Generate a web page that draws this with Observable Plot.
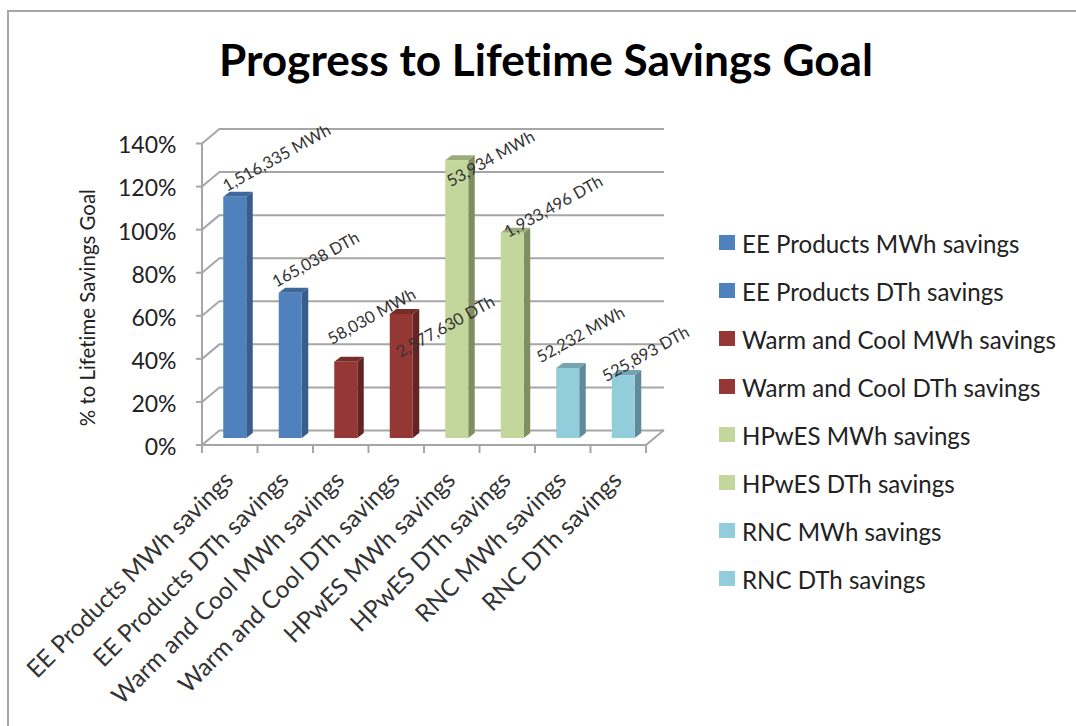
<!DOCTYPE html>
<html>
<head>
<meta charset="utf-8">
<script src="https://cdn.jsdelivr.net/npm/d3@7"></script>
<script src="https://cdn.jsdelivr.net/npm/@observablehq/plot@0.6"></script>
<style>
  html, body { margin: 0; padding: 0; background: #fff; }
  #page { position: relative; width: 1076px; height: 726px; overflow: hidden; font-family: Lato, "Noto Sans", sans-serif; color: #1a1a1a; font-variant-ligatures: none; }
  #edge { position: absolute; left: 7px; top: 10px; right: 0; bottom: 0; border-top: 2px solid #a6a6a6; border-left: 2px solid #a6a6a6; }
  #title { position: absolute; left: 0; width: 1092px; top: 34px; text-align: center; font-weight: 700; font-size: 44.2px; line-height: 50px; color: #000; }
  #legend { position: absolute; left: 719px; top: 219px; }
  .row { position: absolute; left: 0; height: 48px; display: flex; align-items: center; white-space: nowrap; font-size: 24.1px; color: #222; }
  .swatch { width: 16px; height: 15px; margin-right: 7px; margin-top: -2px; flex: none; }
  svg { position: absolute; left: 0; top: 0; font-variant-ligatures: none; }
</style>
</head>
<body>
<div id="page">
  <div id="edge"></div>
  <div id="title">Progress to Lifetime Savings Goal</div>
  <div id="legend"></div>
</div>
<script>
const categories = [
  "EE Products MWh savings", "EE Products DTh savings",
  "Warm and Cool MWh savings", "Warm and Cool DTh savings",
  "HPwES MWh savings", "HPwES DTh savings",
  "RNC MWh savings", "RNC DTh savings"
];
const percentToGoal = [112, 67.5, 35.4, 57.6, 129, 95.3, 32.5, 29.2];
const savingsLabels = [
  "1,516,335 MWh", "165,038 DTh", "58,030 MWh", "2,577,630 DTh",
  "53,934 MWh", "1,933,496 DTh", "52,232 MWh", "525,893 DTh"
];
const frontColors = ["#4f81bd", "#4f81bd", "#953735", "#953735", "#c3d69b", "#c3d69b", "#92cddc", "#92cddc"];
const sideColors  = ["#385d8a", "#385d8a", "#632523", "#632523", "#7f8f61", "#7f8f61", "#5e8a99", "#5e8a99"];
const topColors   = ["#3f6797", "#3f6797", "#772c2a", "#772c2a", "#9cab7c", "#9cab7c", "#74a4b0", "#74a4b0"];
const yTicks = [0, 20, 40, 60, 80, 100, 120, 140];
const yAxisTitle = "% to Lifetime Savings Goal";

// hand placement of each rotated label relative to its bar top
const labelNudges = [[-11, -10], [-17, -10], [-17, -22], [-4, 39], [-9, 22], [-7, 0], [-30, -10], [-20, 2]];

const rows = categories.map((name, i) => ({
  name, value: percentToGoal[i], label: savingsLabels[i],
  front: frontColors[i], side: sideColors[i], top: topColors[i]
}));

const gridStroke = "#a6a6a6";
const wallDx = 18, wallDy = -15;      // depth of the back wall
const barDx = 5, barDy = -7;          // bars stand inside the floor
const depthDx = 6.5, depthDy = -5;    // depth of each bar
const barHalf = 11.5;

function wallFrame(index, scales) {
  const {x, y} = scales;
  const g = d3.create("svg:g").attr("fill", "none").attr("stroke", gridStroke).attr("stroke-width", 2);
  const bw = scales.scales.x.bandwidth;
  const left = x(categories[0]);
  const right = x(categories[categories.length - 1]) + bw;
  for (const t of yTicks) {
    g.append("line").attr("x1", left - 6).attr("x2", left)
      .attr("y1", y(t)).attr("y2", y(t));
    g.append("line").attr("x1", left).attr("x2", left + wallDx)
      .attr("y1", y(t)).attr("y2", y(t) + wallDy);
  }
  g.append("line").attr("x1", left).attr("x2", left).attr("y1", y(0)).attr("y2", y(yTicks[yTicks.length - 1]));
  g.append("line").attr("x1", left).attr("x2", right).attr("y1", y(0)).attr("y2", y(0));
  g.append("line").attr("x1", right).attr("x2", right + wallDx).attr("y1", y(0)).attr("y2", y(0) + wallDy);
  for (const c of categories) {
    g.append("line").attr("x1", x(c)).attr("x2", x(c)).attr("y1", y(0)).attr("y2", y(0) + 8);
  }
  g.append("line").attr("x1", right).attr("x2", right).attr("y1", y(0)).attr("y2", y(0) + 8);
  return g.node();
}

function barDepth(index, scales) {
  const {x, y} = scales;
  const g = d3.create("svg:g");
  const bw = scales.scales.x.bandwidth;
  for (const r of rows) {
    const cx = x(r.name) + bw / 2 + barDx;
    const xL = cx - barHalf, xR = cx + barHalf;
    const yT = y(r.value) + barDy, yB = y(0) + barDy;
    g.append("polygon").attr("fill", r.side)
      .attr("points", [[xR, yT], [xR + depthDx, yT + depthDy], [xR + depthDx, yB + depthDy], [xR, yB]].join(" "));
    g.append("polygon").attr("fill", r.top)
      .attr("points", [[xL, yT], [xR, yT], [xR + depthDx, yT + depthDy], [xL + depthDx, yT + depthDy]].join(" "));
  }
  return g.node();
}

const labelMarks = rows.map((r, i) => Plot.text([r], {
  x: "name", y: "value", text: "label",
  dx: barDx + labelNudges[i][0], dy: barDy + labelNudges[i][1],
  rotate: -29, textAnchor: "start", lineAnchor: "middle",
  fontSize: 16.5, fill: "#333"
}));

const chart = Plot.plot({
  width: 1076, height: 726,
  marginLeft: 202, marginRight: 430, marginTop: 143.5, marginBottom: 281,
  style: { background: "transparent", fontFamily: "Lato, 'Noto Sans', sans-serif" },
  x: { type: "band", domain: categories, padding: 0, round: false, label: null },
  y: { domain: [0, 140], label: null },
  marks: [
    Plot.ruleY(yTicks, { dx: wallDx, dy: wallDy, stroke: gridStroke, strokeWidth: 2 }),
    wallFrame,
    barDepth,
    Plot.barY(rows, {
      x: "name", y: "value", fill: "front",
      insetLeft: 16.25, insetRight: 16.25, dx: barDx, dy: barDy
    }),
    Plot.axisY({
      ticks: yTicks, tickFormat: d => d + "%", tickSize: 0, tickPadding: 26, dy: 2,
      fontSize: 23, fill: "#222", label: null
    }),
    Plot.text([yAxisTitle], {
      frameAnchor: "left", y: () => 64, rotate: -90, dx: -114,
      fontSize: 20.4, fill: "#222", textAnchor: "middle"
    }),
    Plot.axisX({
      tickSize: 0, tickRotate: -45, tickPadding: 28, fontSize: 24.3, fill: "#333", label: null, dx: -1, dy: 2.5
    }),
    ...labelMarks
  ]
});
document.getElementById("page").appendChild(chart);

const legend = d3.select("#legend");
rows.forEach((r, i) => {
  const row = legend.append("div").attr("class", "row").style("top", (i * 48) + "px");
  row.append("div").attr("class", "swatch").style("background", r.front);
  row.append("span").text(r.name);
});
</script>
</body>
</html>
